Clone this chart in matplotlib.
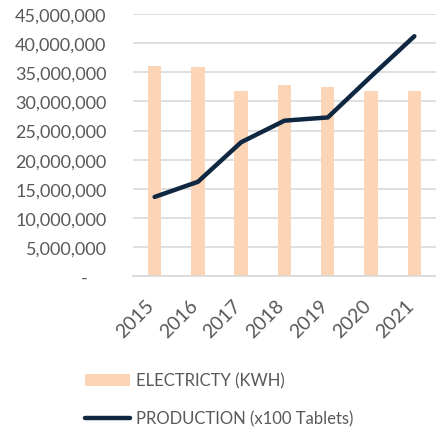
import matplotlib
matplotlib.use("Agg")
import matplotlib.pyplot as plt
import matplotlib.transforms as mtransforms
from matplotlib.ticker import FuncFormatter
from matplotlib.patches import Patch
from matplotlib.lines import Line2D

years = ["2015", "2016", "2017", "2018", "2019", "2020", "2021"]
electricity = [36100000, 35900000, 31800000, 32800000, 32500000, 31800000, 31800000]
production = [13600000, 16200000, 23000000, 26700000, 27250000, 34300000, 41200000]

bar_color = "#FBD5B5"
line_color = "#0F2741"
text_color = "#595959"

plt.rcParams['font.family'] = ['Lato', 'DejaVu Sans']

fig = plt.figure(figsize=(4.36, 4.31), dpi=100)
ax = fig.add_axes([0.305, 0.357, 0.695, 0.608])

x = list(range(len(years)))
ax.bar(x, electricity, width=0.31, color=bar_color, zorder=2)
ax.plot(x, production, color=line_color, linewidth=3.2, solid_capstyle='round', zorder=3)

ax.set_xlim(-0.5, 6.5)
ax.set_ylim(0, 45000000)
ax.set_yticks(range(0, 45000001, 5000000))

def fmt(v, pos):
    if v == 0:
        return "-    "
    return f"{int(v):,}"
ax.yaxis.set_major_formatter(FuncFormatter(fmt))

ax.grid(axis='y', color='#D9D9D9', linewidth=1.2, zorder=0)
for s in ['top', 'right', 'left']:
    ax.spines[s].set_visible(False)
ax.spines['bottom'].set_color('#D9D9D9')
ax.spines['bottom'].set_linewidth(1.2)
ax.tick_params(axis='y', length=0, colors=text_color, labelsize=13, pad=19)

ax.set_xticks(x)
ax.set_xticklabels([])
ax.tick_params(axis='x', length=0)
base = ax.get_xaxis_transform()
offset = mtransforms.ScaledTranslation(3 / 100, -20 / 100, fig.dpi_scale_trans)
for xi, yr in zip(x, years):
    ax.text(xi, 0, yr, transform=base + offset, rotation=45, ha='right', va='top',
            fontsize=14, color=text_color, clip_on=False)

handles = [Patch(facecolor=bar_color, edgecolor='none'),
           Line2D([0], [0], color=line_color, linewidth=3.2, solid_capstyle='round')]
labels = ["ELECTRICTY (KWH)", "PRODUCTION (x100 Tablets)"]
leg = fig.legend(handles, labels, loc='upper left', bbox_to_anchor=(0.195, 0.133),
                 frameon=False, fontsize=12, handlelength=2.7, handleheight=0.75,
                 handletextpad=0.35, labelspacing=1.3, borderaxespad=0, borderpad=0)
for t in leg.get_texts():
    t.set_color(text_color)

fig.savefig("out.png", dpi=100)
